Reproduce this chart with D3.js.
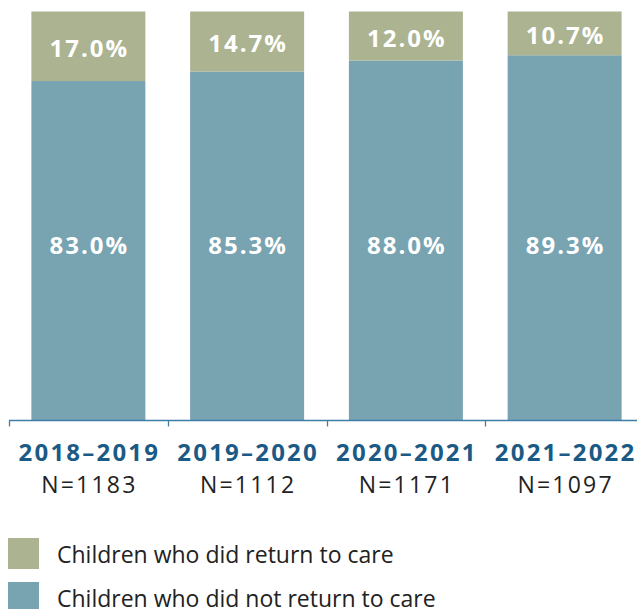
<!DOCTYPE html>
<html>
<head>
<meta charset="utf-8">
<script src="https://cdn.jsdelivr.net/npm/d3@7"></script>
<style>
  html, body { margin: 0; padding: 0; background: #fff; }
  svg { display: block; font-family: "Open Sans", "Noto Sans", sans-serif; }
</style>
</head>
<body>
<svg id="chart" width="637" height="609"></svg>
<script>
// Share of children by return-to-care outcome, per fiscal year
const years = ["2018–2019", "2019–2020", "2020–2021", "2021–2022"];
const counts = ["N=1183", "N=1112", "N=1171", "N=1097"];
const notReturned = [83.0, 85.3, 88.0, 89.3];
const returned = [17.0, 14.7, 12.0, 10.7];
const seriesNames = ["Children who did return to care", "Children who did not return to care"];
const seriesColors = ["#abb391", "#78a3b1"];

const svg = d3.select("#chart");

const x = d3.scaleBand()
  .domain(years)
  .range([9, 644])
  .paddingInner(0.282)
  .paddingOuter(0.141);

const y = d3.scaleLinear()
  .domain([0, 100])
  .range([420.5, 11.5]);

const rows = years.map((yr, i) => ({ year: yr, notReturned: notReturned[i], returned: returned[i] }));
const stack = d3.stack().keys(["notReturned", "returned"]);
const layers = stack(rows);
const colorByKey = { notReturned: seriesColors[1], returned: seriesColors[0] };

// stacked bars
svg.append("g").selectAll("g")
  .data(layers)
  .join("g")
  .attr("fill", d => colorByKey[d.key])
  .selectAll("rect")
  .data(d => d)
  .join("rect")
  .attr("x", d => x(d.data.year))
  .attr("width", x.bandwidth())
  .attr("y", d => y(d[1]))
  .attr("height", d => y(d[0]) - y(d[1]));

// value labels
const labelStyle = sel => sel
  .attr("text-anchor", "middle")
  .attr("dominant-baseline", "central")
  .attr("fill", "#fff")
  .attr("font-weight", 700)
  .attr("font-size", 24)
  .attr("letter-spacing", 2);

svg.append("g").selectAll("text")
  .data(rows)
  .join("text")
  .call(labelStyle)
  .attr("x", d => x(d.year) + x.bandwidth() / 2 + 1)
  .attr("y", d => (y(100) + y(d.notReturned)) / 2 + 1)
  .text(d => d.returned.toFixed(1) + "%");

svg.append("g").selectAll("text")
  .data(rows)
  .join("text")
  .call(labelStyle)
  .attr("x", d => x(d.year) + x.bandwidth() / 2 + 1)
  .attr("y", y(43))
  .text(d => d.notReturned.toFixed(1) + "%");

// axis baseline with ticks at band edges
const axisColor = "#3f7ea6";
const axisY = 420.5;
svg.append("line")
  .attr("x1", 9).attr("x2", 637)
  .attr("y1", axisY).attr("y2", axisY)
  .attr("stroke", axisColor).attr("stroke-width", 1.3);

const edges = years.map(yr => x(yr) - x.step() * x.paddingInner() / 2);
svg.append("g").selectAll("line")
  .data(edges)
  .join("line")
  .attr("x1", d => Math.round(d) + 0.5).attr("x2", d => Math.round(d) + 0.5)
  .attr("y1", axisY).attr("y2", axisY + 6)
  .attr("stroke", axisColor).attr("stroke-width", 1.3);

// category labels
const cats = svg.append("g").selectAll("g")
  .data(years)
  .join("g")
  .attr("transform", d => `translate(${x(d) + x.bandwidth() / 2 + 1},0)`);

cats.append("text")
  .attr("text-anchor", "middle")
  .attr("y", 461)
  .attr("fill", "#1b5a85")
  .attr("font-weight", 700)
  .attr("font-size", 24)
  .attr("letter-spacing", 2.2)
  .text(d => d);

cats.append("text")
  .attr("text-anchor", "middle")
  .attr("y", 493)
  .attr("fill", "#222")
  .attr("font-weight", 400)
  .attr("font-size", 23)
  .attr("letter-spacing", 2.2)
  .text((d, i) => counts[i]);

// legend
const legend = svg.append("g").selectAll("g")
  .data(seriesNames)
  .join("g")
  .attr("transform", (d, i) => `translate(8,${538 + i * 44})`);

legend.append("rect")
  .attr("width", 31).attr("height", 31)
  .attr("fill", (d, i) => seriesColors[i]);

legend.append("text")
  .attr("x", 49)
  .attr("y", 25)
  .attr("fill", "#222")
  .attr("font-size", 23)
  .text(d => d);
</script>
</body>
</html>
